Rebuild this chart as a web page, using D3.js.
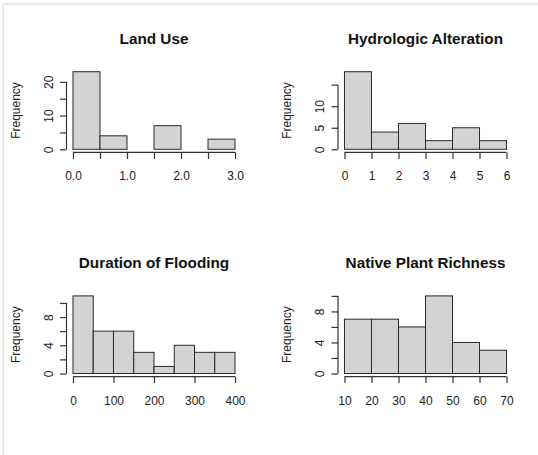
<!DOCTYPE html>
<html>
<head>
<meta charset="utf-8">
<script src="https://cdn.jsdelivr.net/npm/d3@7"></script>
<style>
  html, body { margin: 0; padding: 0; background: #fff; }
  svg { display: block; }
  text { font-family: "Liberation Sans", Arial, sans-serif; }
</style>
</head>
<body>
<svg id="chart" width="538" height="455"></svg>
<script>
// ---- Data ----
const titles = ["Land Use", "Hydrologic Alteration", "Duration of Flooding", "Native Plant Richness"];

const landUseBreaks = [0, 0.5, 1, 1.5, 2, 2.5, 3];
const landUseCounts = [23, 4, 0, 7, 0, 3];
const landUseXTicks = [0, 0.5, 1, 1.5, 2, 2.5, 3];
const landUseXLabels = ["0.0", "", "1.0", "", "2.0", "", "3.0"];
const landUseYTicks = [0, 5, 10, 15, 20];
const landUseYLabels = ["0", "", "10", "", "20"];

const hydroBreaks = [0, 1, 2, 3, 4, 5, 6];
const hydroCounts = [18, 4, 6, 2, 5, 2];
const hydroXTicks = [0, 1, 2, 3, 4, 5, 6];
const hydroXLabels = ["0", "1", "2", "3", "4", "5", "6"];
const hydroYTicks = [0, 5, 10, 15];
const hydroYLabels = ["0", "5", "10", ""];

const floodBreaks = [0, 50, 100, 150, 200, 250, 300, 350, 400];
const floodCounts = [11, 6, 6, 3, 1, 4, 3, 3];
const floodXTicks = [0, 100, 200, 300, 400];
const floodXLabels = ["0", "100", "200", "300", "400"];
const floodYTicks = [0, 2, 4, 6, 8, 10];
const floodYLabels = ["0", "", "4", "", "8", ""];

const richBreaks = [10, 20, 30, 40, 50, 60, 70];
const richCounts = [7, 7, 6, 10, 4, 3];
const richXTicks = [10, 20, 30, 40, 50, 60, 70];
const richXLabels = ["10", "20", "30", "40", "50", "60", "70"];
const richYTicks = [0, 2, 4, 6, 8, 10];
const richYLabels = ["0", "", "4", "", "8", ""];

const yLabel = "Frequency";

// ---- Layout ----
const panels = [
  { title: titles[0], breaks: landUseBreaks, counts: landUseCounts, xt: landUseXTicks, xl: landUseXLabels, yt: landUseYTicks, yl: landUseYLabels, left: 66.5, top: 68.6 },
  { title: titles[1], breaks: hydroBreaks, counts: hydroCounts, xt: hydroXTicks, xl: hydroXLabels, yt: hydroYTicks, yl: hydroYLabels, left: 338, top: 68.6 },
  { title: titles[2], breaks: floodBreaks, counts: floodCounts, xt: floodXTicks, xl: floodXLabels, yt: floodYTicks, yl: floodYLabels, left: 66.5, top: 292.8 },
  { title: titles[3], breaks: richBreaks, counts: richCounts, xt: richXTicks, xl: richXLabels, yt: richYTicks, yl: richYLabels, left: 338, top: 292.8 }
];
const PW = 175, PH = 83.8;

const svg = d3.select("#chart");

// light frame lines of the original image
svg.append("line").attr("x1", 3.3).attr("x2", 3.3).attr("y1", 4).attr("y2", 455)
  .attr("stroke", "#e2e2de").attr("stroke-width", 1.4);
svg.append("line").attr("x1", 3).attr("x2", 538).attr("y1", 4).attr("y2", 4)
  .attr("stroke", "#e2e2de").attr("stroke-width", 1.4);

const tickColor = "#333";
const textColor = "#222";

panels.forEach(p => {
  const bx0 = p.breaks[0], bx1 = p.breaks[p.breaks.length - 1];
  const xr = bx1 - bx0;
  const ymax = d3.max(p.counts);
  const x = d3.scaleLinear().domain([bx0 - 0.04 * xr, bx1 + 0.04 * xr]).range([p.left, p.left + PW]);
  const y = d3.scaleLinear().domain([-0.04 * ymax, ymax * 1.04]).range([p.top + PH, p.top]);

  const g = svg.append("g");

  // bars
  g.selectAll("rect.bar").data(p.counts).join("rect")
    .attr("class", "bar")
    .attr("x", (d, i) => x(p.breaks[i]))
    .attr("width", (d, i) => x(p.breaks[i + 1]) - x(p.breaks[i]))
    .attr("y", d => y(d))
    .attr("height", d => y(0) - y(d))
    .attr("fill", "#d3d3d3")
    .attr("stroke", "#2a2a2a")
    .attr("stroke-width", 1);

  // x axis
  const xAxis = d3.axisBottom(x).tickValues(p.xt)
    .tickFormat((d, i) => p.xl[i]).tickSize(6.5).tickPadding(2);
  const gx = g.append("g").attr("transform", `translate(0,${p.top + PH})`).call(xAxis);
  gx.select(".domain").attr("d", `M${x(p.xt[0])},0H${x(p.xt[p.xt.length - 1])}`)
    .attr("stroke", tickColor).attr("stroke-width", 1.2);
  gx.selectAll(".tick line").attr("stroke", tickColor).attr("stroke-width", 1.2);
  gx.selectAll(".tick text").attr("fill", textColor).attr("font-size", 12)
    .attr("font-family", "'Liberation Sans', Arial, sans-serif")
    .attr("dy", null).attr("y", 28);

  // y axis
  const yAxis = d3.axisLeft(y).tickValues(p.yt)
    .tickFormat((d, i) => p.yl[i]).tickSize(6.5);
  const gy = g.append("g").attr("transform", `translate(${p.left},0)`).call(yAxis);
  gy.select(".domain").attr("d", `M0,${y(p.yt[0])}V${y(p.yt[p.yt.length - 1])}`)
    .attr("stroke", tickColor).attr("stroke-width", 1.2);
  gy.selectAll(".tick line").attr("stroke", tickColor).attr("stroke-width", 1.2);
  gy.selectAll(".tick text").attr("fill", textColor).attr("font-size", 12)
    .attr("font-family", "'Liberation Sans', Arial, sans-serif")
    .attr("x", null).attr("dy", null).attr("y", null)
    .attr("text-anchor", "middle")
    .attr("transform", "translate(-14,0) rotate(-90)");

  // y label
  g.append("text")
    .attr("transform", `translate(${p.left - 47},${p.top + PH / 2}) rotate(-90)`)
    .attr("text-anchor", "middle")
    .attr("font-size", 12)
    .attr("fill", textColor)
    .text(yLabel);

  // title
  g.append("text")
    .attr("x", p.left + PW / 2)
    .attr("y", p.top - 25)
    .attr("text-anchor", "middle")
    .attr("font-size", 15.3)
    .attr("font-weight", "bold")
    .attr("fill", "#111")
    .text(p.title);
});
</script>
</body>
</html>
